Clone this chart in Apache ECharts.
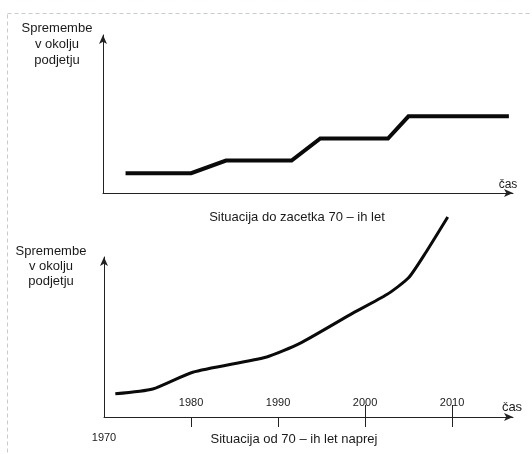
<!DOCTYPE html>
<html lang="sl" style="height: 100%">
<head>
<meta charset="utf-8">
<title>Spremembe v okolju podjetju</title>
</head>
<body style="height: 100%; margin: 0; background: #fff">
<div id="container" style="height: 100%"></div>

<script type="text/javascript" src="https://cdn.jsdelivr.net/npm/echarts/dist/echarts.min.js"></script>

<script type="text/javascript">

var dom = document.getElementById('container');
var myChart = echarts.init(dom, null, {width: 532, height: 454});

// top panel: stepped line, time in arbitrary units 0..100
const topPoints = [
    [5.5, 12.5], [21.5, 12.5], [30, 20.5], [46, 20.5],
    [53, 34.5], [69.5, 34.5], [74.5, 48.5], [99, 48.5]
];

// bottom panel: accelerating curve by year
const curvePoints = [
    [1971.3, 14.5], [1975.6, 17.5], [1980.2, 28], [1988.7, 37.5],
    [1992.5, 46], [1998.3, 64], [2002.5, 76.5], [2005, 87],
    [2007, 103], [2009.5, 125]
];

const labelYears = [1980, 1990, 2000, 2010];
const tickYearsBelow = [1980, 1990, 2000, 2010];
const tickYearsCross = [2000, 2010];
const startYear = [1970];

const yName = 'Spremembe\nv okolju\npodjetju';
const topCaption = 'Situacija do zacetka 70 \u2013 ih let';
const bottomCaption = 'Situacija od 70 \u2013 ih let naprej';

const font = 'Liberation Sans, Arial, sans-serif';
const ink = '#1a1a1a';

const axisLine = {
    show: true,
    symbol: ['none', 'arrow'],
    symbolSize: [6, 9],
    lineStyle: {color: '#222', width: 1}
};

function plainYear(v) { return String(v); }

var option = {
    animation: false,
    backgroundColor: '#fff',
    textStyle: {fontFamily: font, color: ink},
    graphic: [
        {
            type: 'rect', silent: true,
            shape: {x: 7.5, y: 13.5, width: 620, height: 520},
            style: {fill: 'none', stroke: '#c4ccd0', lineWidth: 1, lineDash: [4, 3]}
        },
        {
            type: 'text', x: 57, y: 20,
            style: {text: yName, textAlign: 'center', font: '13px ' + font, fill: ink, lineHeight: 16}
        },
        {
            type: 'text', x: 51, y: 244,
            style: {text: yName, textAlign: 'center', font: '13px ' + font, fill: ink, lineHeight: 15}
        },
        {
            type: 'text', x: 297, y: 211,
            style: {text: topCaption, textAlign: 'center', font: '13px ' + font, fill: ink}
        },
        {
            type: 'text', x: 294, y: 433,
            style: {text: bottomCaption, textAlign: 'center', font: '13px ' + font, fill: ink}
        }
    ],
    grid: [
        {left: 103, top: 35, right: 19, bottom: 261},
        {left: 104, top: 257, right: 19, bottom: 37}
    ],
    xAxis: [
        {
            type: 'value', gridIndex: 0, min: 0, max: 100, position: 'bottom',
            axisLine: axisLine,
            axisTick: {show: false}, axisLabel: {show: false}, splitLine: {show: false},
            name: 'čas', nameLocation: 'end', nameGap: -5,
            nameTextStyle: {fontSize: 12, color: ink, align: 'center', verticalAlign: 'bottom', padding: [0, 0, 2, 0]}
        },
        {
            type: 'value', gridIndex: 1, min: 1970, max: 2017, position: 'bottom',
            axisLine: axisLine,
            axisTick: {show: true, inside: false, length: 10, customValues: tickYearsBelow, lineStyle: {color: '#222'}},
            axisLabel: {show: true, inside: true, margin: 9, customValues: labelYears, formatter: plainYear, fontSize: 11, color: ink},
            splitLine: {show: false},
            name: 'čas', nameLocation: 'end', nameGap: -1,
            nameTextStyle: {fontSize: 13, color: ink, align: 'center', verticalAlign: 'bottom', padding: [0, 0, 3, 0]}
        },
        {
            type: 'value', gridIndex: 1, min: 1970, max: 2017, position: 'bottom',
            axisLine: {show: false},
            axisTick: {show: true, inside: true, length: 12, customValues: tickYearsCross, lineStyle: {color: '#222'}},
            axisLabel: {show: true, inside: false, margin: 15, customValues: startYear, formatter: plainYear, fontSize: 11, color: ink},
            splitLine: {show: false}
        }
    ],
    yAxis: [
        {
            type: 'value', gridIndex: 0, min: 0, max: 100,
            axisLine: axisLine,
            axisTick: {show: false}, axisLabel: {show: false}, splitLine: {show: false}
        },
        {
            type: 'value', gridIndex: 1, min: 0, max: 100,
            axisLine: axisLine,
            axisTick: {show: false}, axisLabel: {show: false}, splitLine: {show: false}
        }
    ],
    series: [
        {
            type: 'line', xAxisIndex: 0, yAxisIndex: 0,
            data: topPoints,
            showSymbol: false,
            lineStyle: {color: '#0a0a0a', width: 4, join: 'miter'}
        },
        {
            type: 'line', xAxisIndex: 1, yAxisIndex: 1,
            data: curvePoints,
            showSymbol: false, smooth: 0.2, clip: false,
            lineStyle: {color: '#0a0a0a', width: 3}
        }
    ]
};

myChart.setOption(option);

</script>
</body>
</html>
